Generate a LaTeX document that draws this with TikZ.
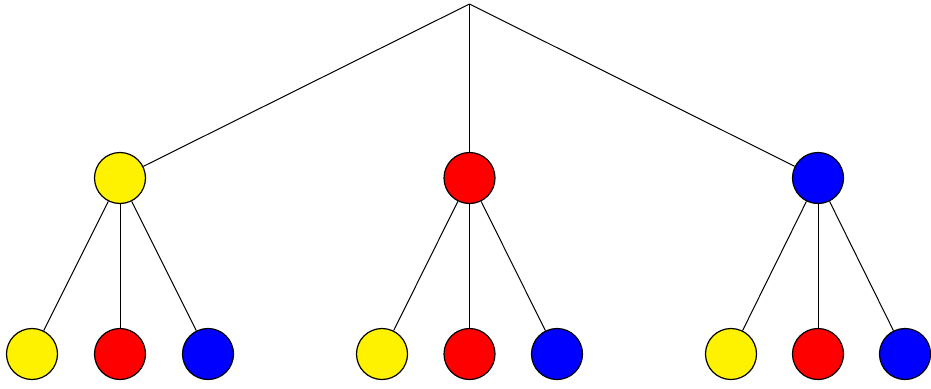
\documentclass[tikz,border=0pt]{standalone}
\usepackage{tikz}
\usepackage{xcolor}

\begin{document}
\begin{tikzpicture}[x=1pt,y=-1pt,line width=1pt,
  ball/.style={circle,draw=black,line width=1.2pt,minimum size=51pt,inner sep=0pt}]
\useasboundingbox (0,0) rectangle (931,388);
\coordinate (top) at (469.5,4);
% level one
\node[ball,fill=yellow] (Y) at (120,178){};
\node[ball,fill=red]    (R) at (469.5,178){};
\node[ball,fill=blue]   (B) at (818,178){};
% level two
\node[ball,fill=yellow] (YY) at (32,354){};
\node[ball,fill=red]    (YR) at (120,354){};
\node[ball,fill=blue]   (YB) at (208,354){};
\node[ball,fill=yellow] (RY) at (382,354){};
\node[ball,fill=red]    (RR) at (469.5,354){};
\node[ball,fill=blue]   (RB) at (557,354){};
\node[ball,fill=yellow] (BY) at (731,354){};
\node[ball,fill=red]    (BR) at (818,354){};
\node[ball,fill=blue]   (BB) at (905,354){};
\draw (top)--(Y);
\draw (top)--(R);
\draw (top)--(B);
\foreach \p in {Y,R,B}{
  \draw (\p)--(\p Y);
  \draw (\p)--(\p R);
  \draw (\p)--(\p B);
}
\end{tikzpicture}
\end{document}
